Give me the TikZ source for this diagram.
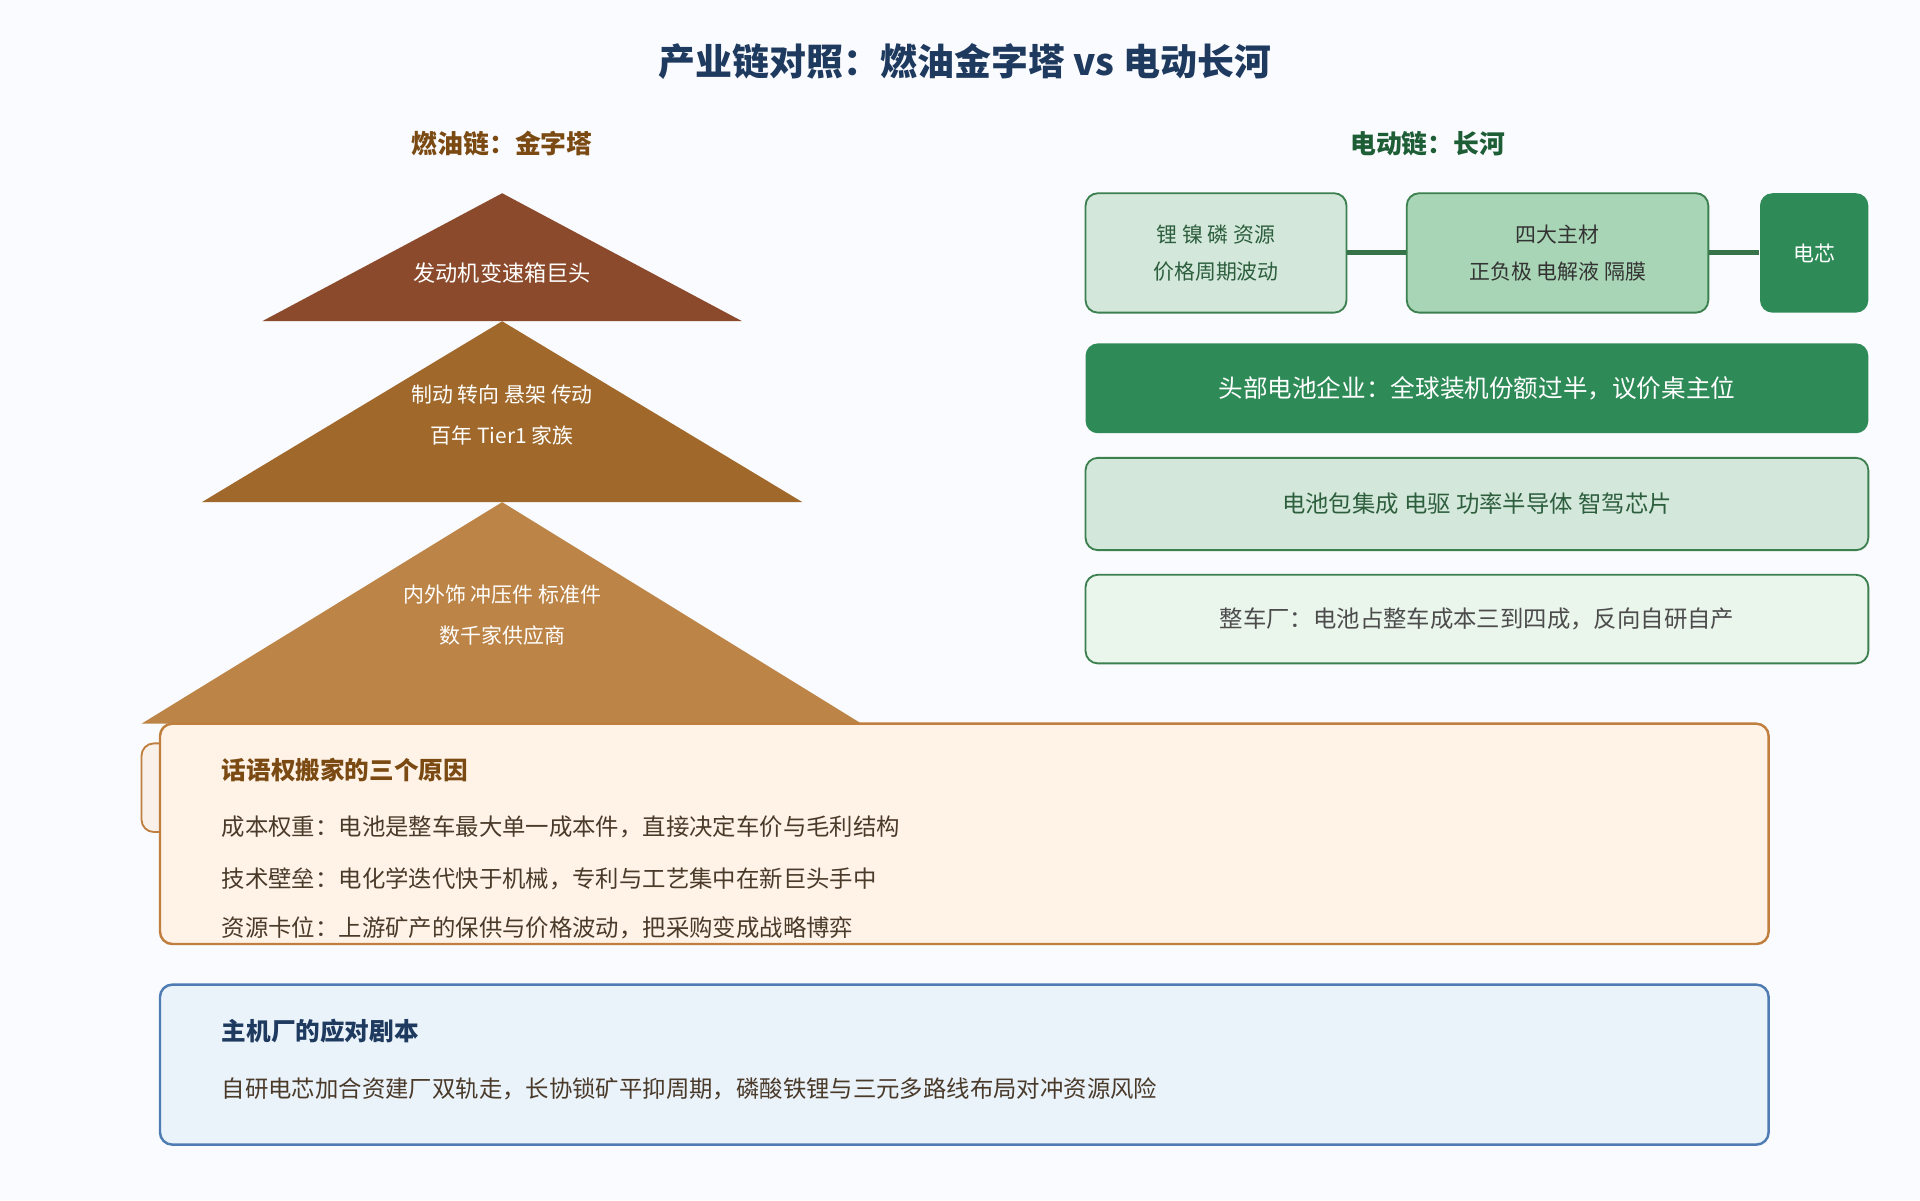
\documentclass[tikz,border=0pt]{standalone}
\usepackage{fontspec}
\setmainfont{Noto Sans CJK SC}
\usetikzlibrary{positioning}
\definecolor{bg}{HTML}{FAFBFE}
\definecolor{navy}{HTML}{1F3A5F}
\definecolor{brownT}{HTML}{7A4A12}
\definecolor{greenT}{HTML}{1E5E36}
\definecolor{tri1}{HTML}{8B4A2B}
\definecolor{tri2}{HTML}{A0692B}
\definecolor{tri3}{HTML}{BC8447}
\definecolor{gstroke}{HTML}{3C8050}
\definecolor{gdark}{HTML}{2E8B57}
\definecolor{glight}{HTML}{D3E8DA}
\definecolor{gmid}{HTML}{A8D5B5}
\definecolor{gpale}{HTML}{EAF5EC}
\definecolor{gtext}{HTML}{2D5E3E}
\definecolor{ofill}{HTML}{FFF3E8}
\definecolor{ostroke}{HTML}{C07F3E}
\definecolor{bfill}{HTML}{EAF2FA}
\definecolor{bstroke}{HTML}{4F7DB3}
\definecolor{body}{HTML}{4A3A2A}
\tikzset{
  box/.style={rounded corners=10pt, line width=1.5pt},
  txt/.style={font=\fontsize{18}{22}\selectfont, align=center},
  ltxt/.style={font=\fontsize{19}{23}\selectfont, anchor=west, text=body, inner sep=0},
}
\begin{document}
\begin{tikzpicture}[x=1pt,y=-1pt]
\fill[bg] (0,0) rectangle (1560,975);
\useasboundingbox (0,0) rectangle (1560,975);
\node[font=\bfseries\fontsize{30}{34}\selectfont, text=navy] (title) at (784,50) {产业链对照：燃油金字塔 vs 电动长河};
\node[font=\bfseries\fontsize{21}{24}\selectfont, text=brownT] (lh) at (408,117) {燃油链：金字塔};
\node[font=\bfseries\fontsize{21}{24}\selectfont, text=greenT] (rh) at (1160,117) {电动链：长河};
% pyramid
\fill[tri3] (408,408) -- (700,588) -- (115,588) -- cycle;
\fill[tri2] (408,261) -- (652,408) -- (164,408) -- cycle;
\fill[tri1] (408,157) -- (603,261) -- (213,261) -- cycle;
\node[txt, text=white] (p1) at (408,222) {发动机变速箱巨头};
\node[txt, text=white, font=\fontsize{17}{33}\selectfont] (p2) at (408,337) {制动 转向 悬架 传动\\百年 Tier1 家族};
\node[txt, text=white, font=\fontsize{17}{33}\selectfont] (p3) at (408,500) {内外饰 冲压件 标准件\\数千家供应商};
% tab & orange box
\draw[box, fill=ofill!70!brown!30, draw=ostroke] (115,604) rectangle (145,676);
\draw[box, fill=ofill, draw=ostroke, line width=2pt] (130,588) rectangle (1437,767);
\node[font=\bfseries\fontsize{20}{24}\selectfont, text=brownT, anchor=west, inner sep=0] (ot) at (180,626) {话语权搬家的三个原因};
\node[ltxt] (o1) at (180,672) {成本权重：电池是整车最大单一成本件，直接决定车价与毛利结构};
\node[ltxt] (o2) at (180,714) {技术壁垒：电化学迭代快于机械，专利与工艺集中在新巨头手中};
\node[ltxt] (o3) at (180,754) {资源卡位：上游矿产的保供与价格波动，把采购变成战略博弈};
% blue box
\draw[box, fill=bfill, draw=bstroke, line width=2pt] (130,800) rectangle (1437,930);
\node[font=\bfseries\fontsize{20}{24}\selectfont, text=navy, anchor=west, inner sep=0] (bt) at (180,838) {主机厂的应对剧本};
\node[ltxt] (b1) at (180,885) {自研电芯加合资建厂双轨走，长协锁矿平抑周期，磷酸铁锂与三元多路线布局对冲资源风险};
% right chain
\node[box, draw=gstroke, fill=glight, minimum width=212pt, minimum height=97pt, txt, text=gtext, font=\fontsize{17}{30}\selectfont] (r1) at (988,205.5) {锂 镍 磷 资源\\价格周期波动};
\node[box, draw=gstroke, fill=gmid, minimum width=245pt, minimum height=97pt, txt, text=black!80, font=\fontsize{17}{30}\selectfont] (r2) at (1265.5,205.5) {四大主材\\正负极 电解液 隔膜};
\node[box, fill=gdark, minimum width=88pt, minimum height=97pt, txt, text=white, font=\fontsize{17}{30}\selectfont] (r3) at (1474,205.5) {电芯};
\draw[gstroke!90!black, line width=4pt] (r1.east) -- (r2.west);
\draw[gstroke!90!black, line width=4pt] (r2.east) -- (r3.west);
\node[box, fill=gdark, minimum width=636pt, minimum height=73pt, txt, text=white, font=\fontsize{20}{24}\selectfont] (r4) at (1200,315.5) {头部电池企业：全球装机份额过半，议价桌主位};
\node[box, draw=gstroke, fill=glight, minimum width=636pt, minimum height=75pt, txt, text=gtext, font=\fontsize{19}{23}\selectfont] (r5) at (1200,409.5) {电池包集成 电驱 功率半导体 智驾芯片};
\node[box, draw=gstroke, fill=gpale, minimum width=636pt, minimum height=72pt, txt, text=black!70, font=\fontsize{19}{23}\selectfont] (r6) at (1200,503) {整车厂：电池占整车成本三到四成，反向自研自产};
\end{tikzpicture}
\end{document}
